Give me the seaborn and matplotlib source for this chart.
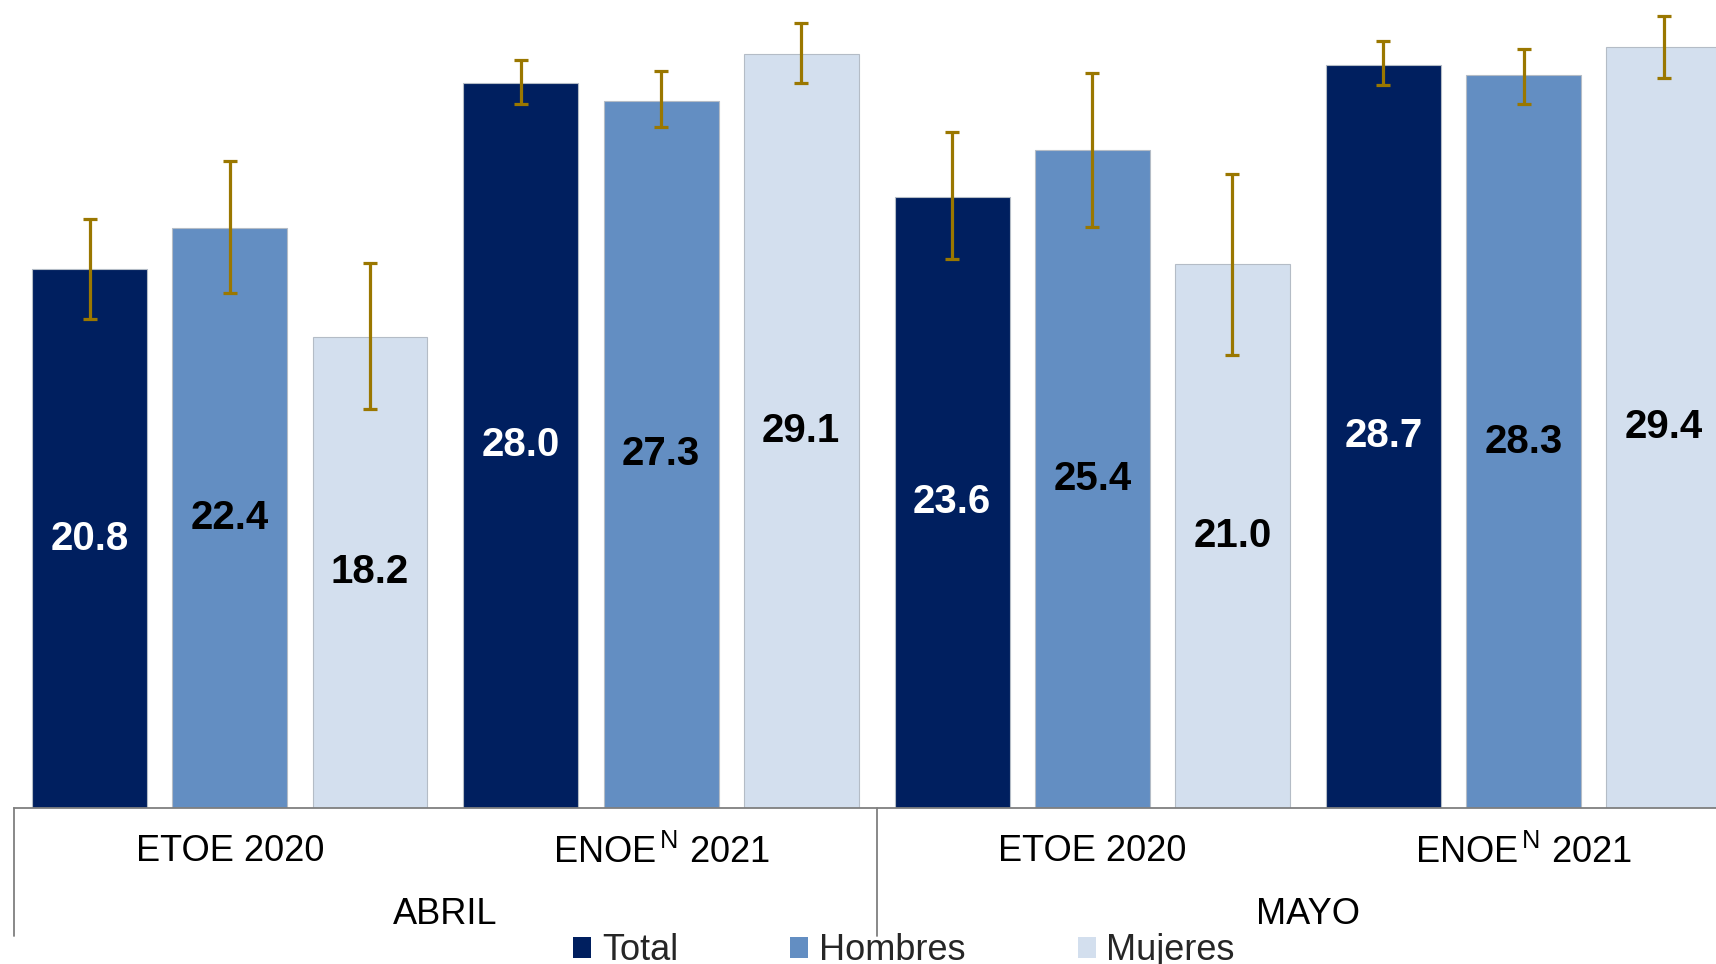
import pandas as pd
import matplotlib
matplotlib.use('Agg')
import matplotlib.pyplot as plt
import matplotlib.transforms as mtransforms
from matplotlib.patches import Patch
import seaborn as sns

# Data
meses = ['ABRIL', 'MAYO']
encuestas = ['ETOE 2020', r'ENOE$^{\,N}$ 2021']
sexos = ['Total', 'Hombres', 'Mujeres']
colores = ['#001f5f', '#638ec2', '#d3dfee']

# values per group: ABRIL-ETOE, ABRIL-ENOE, MAYO-ETOE, MAYO-ENOE
total = [20.8, 28.0, 23.6, 28.7]
hombres = [22.4, 27.3, 25.4, 28.3]
mujeres = [18.2, 29.1, 21.0, 29.4]

# confidence interval ends
total_lo = [18.9, 27.2, 21.2, 27.9]
total_hi = [22.75, 28.9, 26.1, 29.6]
hombres_lo = [19.9, 26.3, 22.45, 27.2]
hombres_hi = [25.0, 28.45, 28.4, 29.3]
mujeres_lo = [15.4, 28.0, 17.5, 28.2]
mujeres_hi = [21.05, 30.3, 24.5, 30.6]

grupos = [f'{m}|{e}' for m in meses for e in encuestas]
valores = {'Total': total, 'Hombres': hombres, 'Mujeres': mujeres}
bajos = {'Total': total_lo, 'Hombres': hombres_lo, 'Mujeres': mujeres_lo}
altos = {'Total': total_hi, 'Hombres': hombres_hi, 'Mujeres': mujeres_hi}

rows = []
for s in sexos:
    for g, v in zip(grupos, valores[s]):
        rows.append({'grupo': g, 'sexo': s, 'valor': v})
df = pd.DataFrame(rows)

sns.set_theme(style='white')
plt.rcParams['font.family'] = ['Liberation Sans', 'DejaVu Sans']
plt.rcParams['mathtext.default'] = 'regular'

fig = plt.figure(figsize=(17.16, 9.64), dpi=100)
ax = fig.add_axes([14.2 / 1716, 156 / 964, 1725 / 1716, 808 / 964])

sns.barplot(data=df, x='grupo', y='valor', hue='sexo', order=grupos,
            hue_order=sexos, palette=colores, saturation=1, width=0.975,
            gap=0.18, edgecolor='#b4bcc6', linewidth=0.8, legend=False, ax=ax)

# error bars and value labels
for s, cont in zip(sexos, ax.containers):
    xs = [p.get_x() + p.get_width() / 2 for p in cont]
    ys = valores[s]
    err = [[y - lo for y, lo in zip(ys, bajos[s])],
           [hi - y for y, hi in zip(ys, altos[s])]]
    ax.errorbar(xs, ys, yerr=err, fmt='none', ecolor='#9a7700',
                elinewidth=2.3, capsize=5, capthick=2.3, zorder=5)
    ax.bar_label(cont, labels=[f'{v:.1f}' for v in ys], label_type='center',
                 color='white' if s == 'Total' else 'black',
                 fontsize=29, fontweight='bold')

ax.set_xlim(-0.5, 3.5)
ax.set_ylim(0, 31.2)
ax.set_yticks([])
ax.set_xlabel('')
ax.set_ylabel('')
ax.set_xticks(range(len(grupos)))
ax.set_xticklabels([g.split('|')[1] for g in grupos], fontsize=26, color='black')
ax.tick_params(axis='x', length=0, pad=19)
for side in ['left', 'right', 'top']:
    ax.spines[side].set_visible(False)
ax.spines['bottom'].set_color('#7f7f7f')
ax.spines['bottom'].set_linewidth(1.3)

# month labels and separators below the axis
trans = mtransforms.blended_transform_factory(ax.transData, ax.transAxes)
for i, m in enumerate(meses):
    ax.text(2 * i + 0.5, -106 / 808, m, transform=trans, ha='center',
            va='center', fontsize=26, color='black')
for xv in [-0.5, 1.5]:
    ax.plot([xv, xv], [0, -128 / 808], transform=trans, color='#7f7f7f',
            linewidth=1.3, clip_on=False)

handles = [Patch(facecolor=c, edgecolor='none') for c in colores]
fig.legend(handles, sexos, loc='center', bbox_to_anchor=(904 / 1716, 13 / 964),
           ncol=3, frameon=False, fontsize=26, handlelength=0.5,
           handleheight=0.5, handletextpad=0.3, columnspacing=3.1)

fig.savefig('out.png', dpi=100)
